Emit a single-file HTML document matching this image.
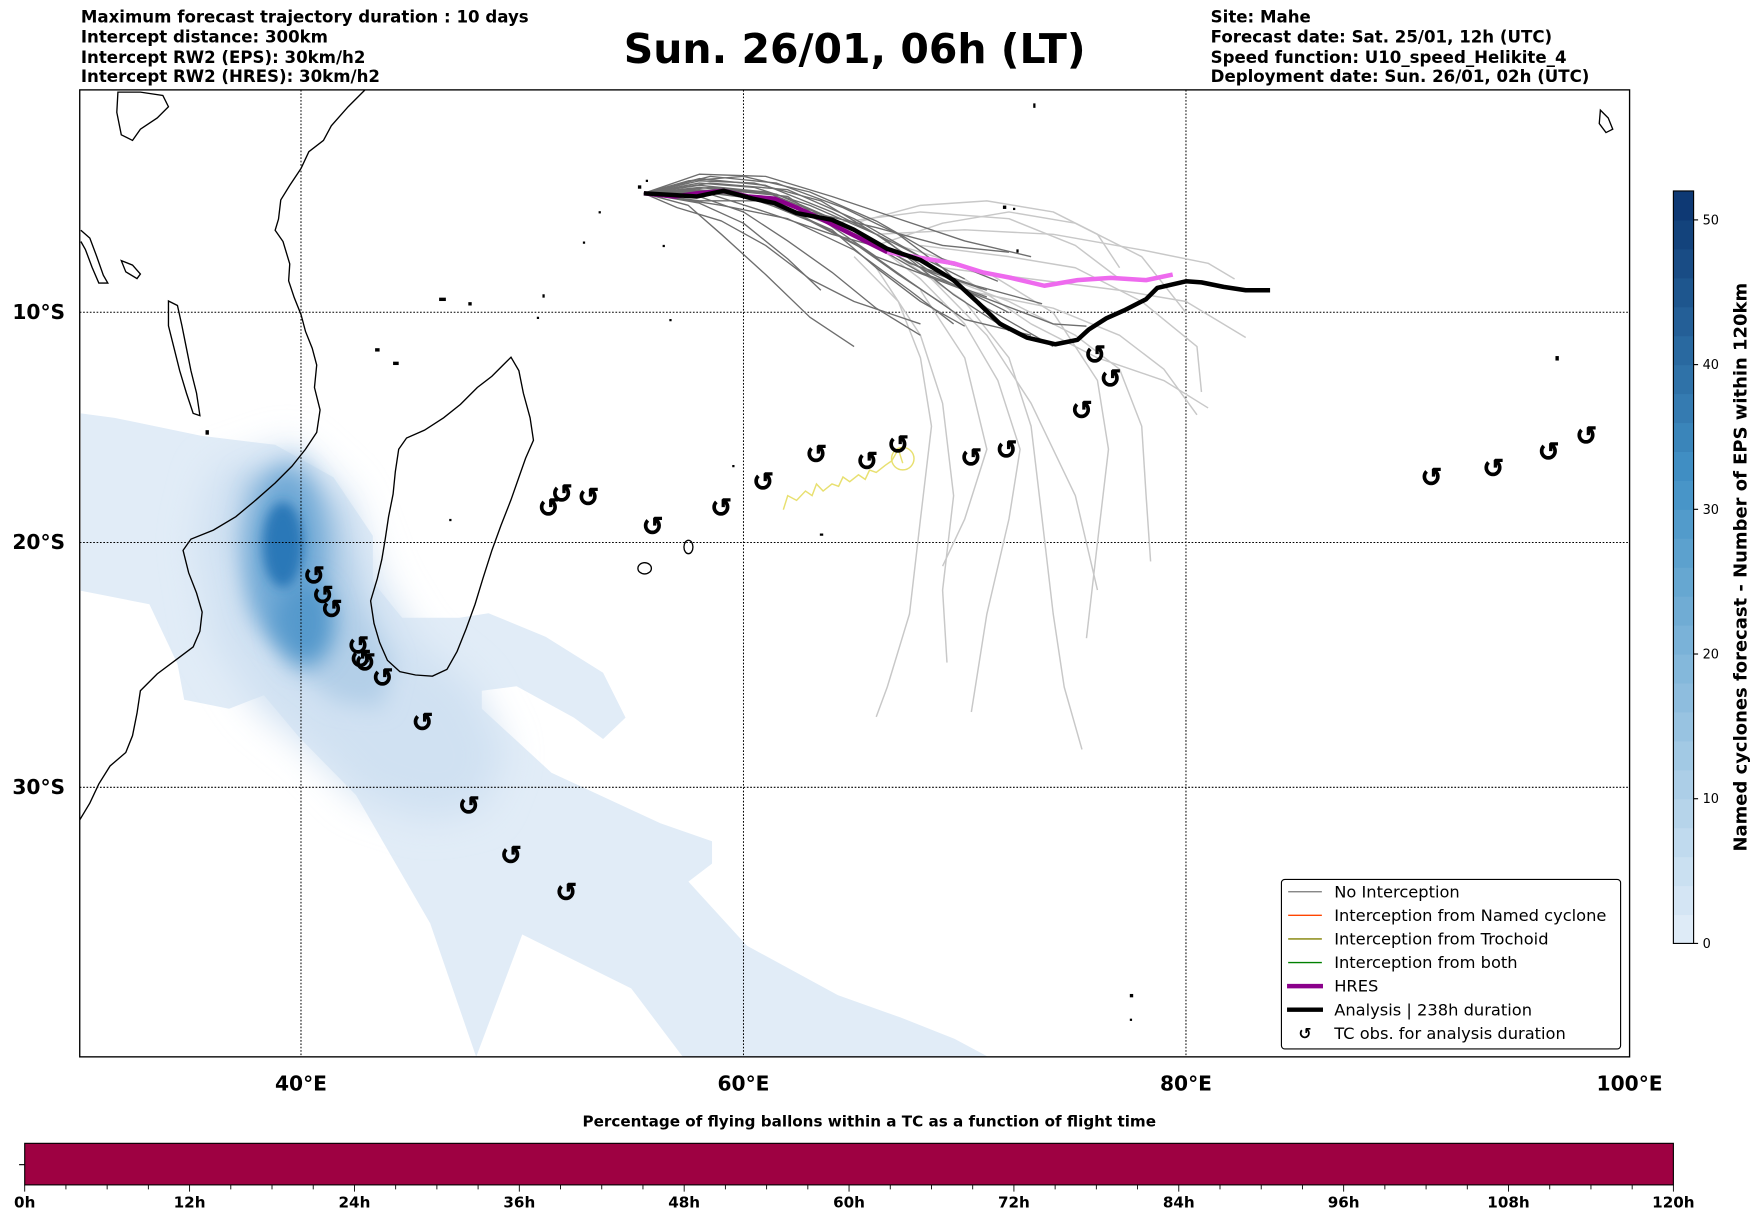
<!DOCTYPE html>
<html><head><meta charset="utf-8"><style>
html,body{margin:0;padding:0;background:#fff;}
svg{display:block;font-family:"DejaVu Sans","Liberation Sans",sans-serif;}
</style></head><body>
<svg id="fig" width="1752" height="1213" viewBox="0 0 1560 1080" xmlns="http://www.w3.org/2000/svg">
<defs>
<clipPath id="mapclip"><rect x="71" y="80" width="1380" height="861"/></clipPath>
<filter id="b4" x="-50%" y="-50%" width="200%" height="200%"><feGaussianBlur stdDeviation="5"/></filter>
<filter id="b10" x="-50%" y="-50%" width="200%" height="200%"><feGaussianBlur stdDeviation="10"/></filter>
<filter id="b16" x="-50%" y="-50%" width="200%" height="200%"><feGaussianBlur stdDeviation="16"/></filter>
</defs>
<g font-size="14.8" font-weight="bold">
<text x="72" y="20">Maximum forecast trajectory duration : 10 days</text>
<text x="72" y="38">Intercept distance: 300km</text>
<text x="72" y="56">Intercept RW2 (EPS):  30km/h2</text>
<text x="72" y="73">Intercept RW2 (HRES): 30km/h2</text>
</g>
<text x="761" y="56" font-size="36.5" font-weight="bold" text-anchor="middle">Sun. 26/01, 06h (LT)</text>
<g font-size="14.8" font-weight="bold">
<text x="1078" y="20">Site: Mahe</text>
<text x="1078" y="38">Forecast date: Sat. 25/01, 12h (UTC)</text>
<text x="1078" y="56">Speed function: U10_speed_Helikite_4</text>
<text x="1078" y="73">Deployment date: Sun. 26/01, 02h (UTC)</text>
</g>

<g id="map" clip-path="url(#mapclip)">
<g>
<polygon fill="#e1ecf7" points="72,368 102,372 179,388 245,396 297,425 332,477 332,518 358,550 409,550 435,546 486,567 537,599 557,639 537,658 511,639 460,611 429,615 429,631 491,688 588,733 634,749 634,769 613,785 665,842 746,886 802,906 850,925 880,941 608,941 562,880 465,832 424,941 383,822 317,708 266,656 235,619 204,631 164,623 158,591 133,538 72,526"/>
<polygon fill="#d0e1f2" filter="url(#b16)" points="190,420 260,395 310,440 340,520 370,570 420,610 450,670 430,720 380,730 320,710 280,670 230,630 190,570 175,480"/>
<polygon fill="#b3cfe8" filter="url(#b10)" points="215,425 265,405 305,455 320,530 350,590 340,630 300,625 260,595 222,545 208,480"/>
<ellipse cx="255" cy="495" rx="36" ry="78" fill="#6fa9d6" filter="url(#b10)"/>
<ellipse cx="272" cy="555" rx="26" ry="38" fill="#5599cc" filter="url(#b10)"/>
<ellipse cx="252" cy="485" rx="18" ry="38" fill="#2b78b8" filter="url(#b4)"/>
</g>
<g stroke="#000" stroke-width="0.9" stroke-dasharray="1.5,1.5" fill="none">
<line x1="268" y1="80" x2="268" y2="941"/><line x1="662" y1="80" x2="662" y2="941"/><line x1="1056" y1="80" x2="1056" y2="941"/>
<line x1="71" y1="278" x2="1451" y2="278"/><line x1="71" y1="483" x2="1451" y2="483"/><line x1="71" y1="701" x2="1451" y2="701"/>
</g>
<g fill="none" stroke="#000" stroke-width="1.2">
<path d="M325,80 L310,95 295,112 288,125 275,135 268,150 258,165 250,178 248,195 245,205 252,215 258,235 257,250 262,265 268,280 272,295 278,310 282,325 280,345 285,365 282,385 272,400 260,415 245,430 228,445 210,460 190,472 170,480 163,490 168,510 175,528 180,545 178,562 172,576 160,585 140,600 125,615 122,635 118,655 112,670 98,682 88,698 80,715 71,730"/>
<path d="M455,318 L462,330 466,350 472,372 475,392 468,408 462,425 455,445 446,468 438,490 430,515 423,538 415,560 407,580 398,596 385,602 370,601 356,598 345,588 338,572 333,555 330,535 336,515 340,498 343,480 346,460 350,440 352,420 355,400 362,390 378,383 395,372 410,360 425,345 438,335 448,325 Z"/>
<path d="M150,268 L158,272 162,290 166,310 170,330 175,350 178,370 172,368 166,350 160,330 155,310 150,290 Z"/>
<path d="M72,205 L80,212 86,228 92,245 96,252 88,252 82,238 76,222 72,215"/>
<path d="M105,82 L125,82 145,85 150,95 140,105 125,115 118,125 108,120 104,100 Z"/>
<path d="M108,232 L118,236 125,244 122,248 112,242 Z"/>
<ellipse cx="613" cy="487" rx="4" ry="6"/>
<ellipse cx="574" cy="506" rx="6" ry="5"/>
<path d="M1425,98 L1432,105 1436,115 1430,118 1424,110 Z"/>
</g>
<g fill="#000">
<rect x="568" y="165" width="3" height="3"/><rect x="575" y="160" width="2" height="2"/><rect x="533" y="188" width="2" height="2"/><rect x="519" y="215" width="2" height="2"/><rect x="590" y="218" width="2" height="2"/>
<rect x="391" y="265" width="6" height="3"/><rect x="417" y="269" width="3" height="3"/><rect x="483" y="262" width="2" height="3"/><rect x="478" y="282" width="2" height="2"/><rect x="596" y="284" width="2" height="2"/>
<rect x="893" y="183" width="3" height="3"/><rect x="902" y="185" width="2" height="2"/><rect x="905" y="222" width="2" height="3"/><rect x="920" y="92" width="2" height="4"/>
<rect x="1385" y="317" width="3" height="4"/><rect x="1006" y="885" width="3" height="3"/><rect x="1006" y="907" width="2" height="2"/><rect x="730" y="475" width="3" height="2"/><rect x="652" y="414" width="2" height="2"/>
<rect x="400" y="462" width="2" height="2"/><rect x="334" y="310" width="4" height="3"/><rect x="350" y="322" width="5" height="3"/><rect x="183" y="383" width="3" height="4"/>
</g>
<g id="eps-light"></g>
<g id="eps-dark"></g>
<g id="trochoid"></g>
<g id="hres"></g>
<g id="analysis"></g>
<g id="tcobs"></g>
</g>
<rect x="71" y="80" width="1380" height="861" fill="none" stroke="#000" stroke-width="1.2"/>
<g font-size="18" font-weight="bold" text-anchor="end">
<text x="58" y="284">10°S</text><text x="58" y="489">20°S</text><text x="58" y="707">30°S</text>
</g>
<g font-size="18" font-weight="bold" text-anchor="middle">
<text x="268" y="971">40°E</text><text x="662" y="971">60°E</text><text x="1056" y="971">80°E</text><text x="1451" y="971">100°E</text>
</g>

<g font-size="14.5">
<rect x="1141" y="783" width="302" height="151" rx="3" fill="#fff" stroke="#000" stroke-width="1"/>
<line x1="1147" y1="794" x2="1177" y2="794" stroke="#777" stroke-width="1.2"/><text x="1188" y="799">No Interception</text>
<line x1="1147" y1="815" x2="1177" y2="815" stroke="#ff4500" stroke-width="1.2"/><text x="1188" y="820">Interception from Named cyclone</text>
<line x1="1147" y1="836" x2="1177" y2="836" stroke="#808000" stroke-width="1.2"/><text x="1188" y="841">Interception from Trochoid</text>
<line x1="1147" y1="857" x2="1177" y2="857" stroke="#008000" stroke-width="1.2"/><text x="1188" y="862">Interception from both</text>
<line x1="1146" y1="878" x2="1178" y2="878" stroke="#8b008b" stroke-width="4"/><text x="1188" y="883">HRES</text>
<line x1="1146" y1="899" x2="1178" y2="899" stroke="#000" stroke-width="4"/><text x="1188" y="904">Analysis | 238h duration</text>
<text x="1162" y="925" font-weight="bold" text-anchor="middle" font-size="14">↺</text><text x="1188" y="925">TC obs. for analysis duration</text>
</g>

<g id="cbar-right"></g>
<text transform="translate(1555,505) rotate(-90)" font-size="16" font-weight="bold" text-anchor="middle">Named cyclones forecast - Number of EPS within 120km</text>

<text x="774" y="1003" font-size="13.5" font-weight="bold" text-anchor="middle">Percentage of flying ballons within a TC as a function of flight time</text>
<rect x="22" y="1018" width="1468" height="37" fill="#9e0142" stroke="#000" stroke-width="1"/>
<line x1="17" y1="1037" x2="22" y2="1037" stroke="#000"/>
<g id="cbar-bottom" font-size="13.5" font-weight="bold" text-anchor="middle"></g>
</svg>
<script>
// ---- data ----
const hresLon = [55.5,56.9,57.9,59.1,60.2,61.4,62.4,63.5,65.0,66.5,68.0,69.5,70.8,72.1,73.6,75.1,76.6,78.2,79.4];
const hresLat = [4.66,4.8,4.66,4.55,4.8,4.9,5.3,5.8,6.55,7.3,7.55,7.8,8.2,8.45,8.8,8.55,8.45,8.55,8.3];
const hresPurpleCount = 10;
const analysisLon = [55.5,56.9,57.9,59.1,60.4,61.4,62.4,64.0,65.0,66.5,68.0,69.5,70.6,71.6,72.8,74.1,75.1,75.6,76.4,77.2,78.2,78.7,80.0,80.7,81.7,82.7,83.8];
const analysisLat = [4.66,4.74,4.8,4.55,4.9,5.1,5.55,5.85,6.3,7.15,7.65,8.55,9.55,10.5,11.1,11.4,11.2,10.75,10.25,9.9,9.4,8.9,8.6,8.65,8.85,9.0,9.0];
const darkTracks = [
 [[55.5,4.66],[58,4.0],[61,4.3],[64,5.5],[67,7.0],[70,8.5]],
 [[55.5,4.66],[58,4.3],[61,4.6],[64,5.8],[67,7.5],[70,9.0],[72,10.0]],
 [[55.5,4.66],[58,4.8],[60,5.5],[62,6.8],[64,8.2],[66,9.8],[68,11.0]],
 [[55.5,4.66],[57.5,5.2],[59,6.5],[61,8.3],[63,10.2],[65,11.5]],
 [[55.5,4.66],[58,3.8],[61,3.9],[64,4.8],[67,5.8],[70,6.8],[73,7.5]],
 [[55.5,4.66],[58.5,4.2],[62,4.5],[65,5.8],[68,7.5],[71,9.8],[74,11.5]],
 [[55.5,4.66],[58,5.0],[61,5.0],[64,6.3],[66,8.0],[68,9.5],[70,10.6]],
 [[55.5,4.66],[59,4.5],[62,5.3],[65,6.5],[68,8.2],[71,9.3]],
 [[55.5,4.66],[58,4.5],[61,4.9],[63,5.5],[66,6.2],[69,7.0],[72,7.3]],
 [[55.5,4.66],[57,5.3],[59,5.9],[61,7.0],[63,8.5],[65,9.5],[68,10.5]],
 [[55.5,4.66],[58.5,3.9],[61.5,4.2],[64.5,5.3],[67,6.5],[69,8.0],[71,10.0],[72.5,11.0]],
 [[55.5,4.66],[58,4.6],[60.5,4.9],[63,5.9],[65.5,7.2],[67.5,8.6],[70,10.3],[73,11.0]],
 [[55.5,4.66],[58.5,4.7],[61,5.5],[64,6.5],[67,7.3],[70,8.0]],
 [[55.5,4.66],[58,4.2],[60.5,4.4],[63,5.2],[66,6.5],[68.5,8.2],[71,9.0]],
 [[55.5,4.66],[59,5.2],[62,5.8],[65,7.2],[67.5,9.0],[69.5,10.5]],
 [[55.5,4.66],[58,4.4],[62,4.8],[66,7.5],[70,9.0],[74,10.5],[75.5,10.6]],
 [[55.5,4.66],[57.5,4.1],[60,3.9],[63,4.6],[66,5.9],[69,7.6],[71.5,8.6]],
 [[55.5,4.66],[58,5.1],[60,6.0],[62,7.6],[63.5,9.0]],
 [[55.5,4.66],[58,4.1],[60.5,4.2],[63.5,5.0],[66.5,6.8],[69.5,9.2],[72,10.8]],
 [[55.5,4.66],[58.5,4.4],[61.5,4.7],[64.5,6.0],[67.5,7.8],[70.5,8.8],[73.5,9.6]],
 [[55.5,4.66],[57.5,4.5],[60,4.8],[62.5,5.6],[65,6.9],[67,8.3],[69,9.6]]
];
const lightTracks = [
 [[66,7.0],[68,8.5],[70,10.5],[71.5,13],[72.5,16],[72,19],[71,23],[70.3,27]],
 [[67,7.5],[70,9.5],[72,12],[73,15],[73.5,19],[74,23],[74.5,26],[75.3,28.5]],
 [[68,8.0],[72,9.5],[75,11],[77,12.5],[78,15],[78.2,18],[78.4,20.8]],
 [[68,7.0],[72,7.5],[75,8.0],[78,9.5],[80.5,11.5],[80.7,13.5]],
 [[69,8.0],[73,8.5],[77,9.0],[80,9.5],[82.7,11.1]],
 [[66,6.5],[70,6.3],[74,6.5],[78,7.2],[81,7.8],[82.2,8.5]],
 [[65,7.5],[67,9.5],[68,12],[68.5,15],[68,19],[67.5,23],[66.5,26],[66,27.2]],
 [[64,6.0],[68,5.5],[72,5.8],[75,7.0],[77,8.5]],
 [[67,7.0],[71,8.2],[74,10.0],[76,13],[76.5,16],[76,20],[75.5,24]],
 [[66,7],[69,6],[72,5.5],[75,6],[78,7.5],[80,10.0]],
 [[70,9],[74,9.8],[77,11],[79,12.5],[80.5,14.5]],
 [[65,6],[68,5.2],[71,5.0],[74,5.5],[76,6.5],[77,8]],
 [[68,8.0],[71,11],[73,14],[75,18],[76,22]],
 [[66,8],[68,11],[69,14],[69.5,18],[69,22],[69.2,25]],
 [[70,8.5],[73,10.5],[76,12],[79,13],[81,14.2]],
 [[68,9],[70,12],[71,16],[70,19],[69,21]]
];
const trochoidLon = [61.8,62.0,62.4,62.8,63.1,63.3,63.6,64.0,64.3,64.5,64.8,65.2,65.5,65.7,66.0,66.4,66.7,67.0,67.2];
const trochoidLat = [18.6,18.0,18.2,17.8,18.0,17.5,17.8,17.5,17.6,17.2,17.4,17.1,17.3,16.9,17.0,16.7,16.5,16.0,16.6];
const tcLon = [40.6,41.0,41.4,42.6,42.7,42.9,43.7,45.5,47.6,49.5,52.0,51.2,51.8,53.0,55.9,59.0,60.9,63.3,65.6,67.0,70.3,71.9,75.3,75.9,76.6,91.1,93.9,96.4,98.1];
const tcLat = [21.4,22.2,22.8,24.3,24.85,25.0,25.6,27.4,30.7,32.6,34.0,18.5,17.9,18.05,19.3,18.5,17.4,16.2,16.5,15.8,16.35,16.0,14.3,11.85,12.9,17.2,16.8,16.1,15.4];
const densityTicks = [0,10,20,30,40,50];
const densityMax = 52;
const timeTicks = [0,12,24,36,48,60,72,84,96,108,120];
const timeMax = 120;

// ---- axes ----
function xLon(lon){ return 71 + (lon-30)*19.7; }
function yLat(lat){ const r = lat*Math.PI/180; return 80 + 1131*Math.log(Math.tan(Math.PI/4 + r/2)); }
const NS = "http://www.w3.org/2000/svg";
function mk(tag, attrs, parent){ const e=document.createElementNS(NS,tag); for(const k in attrs) e.setAttribute(k,attrs[k]); parent.appendChild(e); return e; }
function pts(arr){ return arr.map(p=>xLon(p[0]).toFixed(1)+","+yLat(p[1]).toFixed(1)).join(" "); }
function zip(a,b){ return a.map((v,i)=>[v,b[i]]); }

const gLight=document.getElementById('eps-light');
lightTracks.forEach(t=>{ const e=mk('polyline',{points:pts(t),fill:'none',stroke:'#c8c8c8','stroke-width':1.3,'stroke-linejoin':'round'},gLight);
 
  });
const gDark=document.getElementById('eps-dark');
darkTracks.forEach(t=>{ const e=mk('polyline',{points:pts(t),fill:'none',stroke:'#6e6e6e','stroke-width':1.2,'stroke-linejoin':'round'},gDark);
 
  });

const gT=document.getElementById('trochoid');
const tr=mk('polyline',{points:pts(zip(trochoidLon,trochoidLat)),fill:'none',stroke:'#e8e070','stroke-width':1.3},gT);


const trc=mk('circle',{cx:xLon(trochoidLon[trochoidLon.length-1]),cy:yLat(trochoidLat[trochoidLat.length-1])-4,r:10,fill:'none',stroke:'#e8e070','stroke-width':1.3},gT);



const gH=document.getElementById('hres');
const hp=zip(hresLon,hresLat);
const h2=mk('polyline',{points:pts(hp.slice(hresPurpleCount-1)),fill:'none',stroke:'#ee6aee','stroke-width':4,'stroke-linejoin':'round'},gH);


const h1=mk('polyline',{points:pts(hp.slice(0,hresPurpleCount)),fill:'none',stroke:'#8b008b','stroke-width':4,'stroke-linejoin':'round'},gH);



const gA=document.getElementById('analysis');
const an=mk('polyline',{points:pts(zip(analysisLon,analysisLat)),fill:'none',stroke:'#000','stroke-width':4,'stroke-linejoin':'round'},gA);



const gTC=document.getElementById('tcobs');
tcLon.forEach((lon,i)=>{ const t=mk('text',{x:xLon(lon),y:yLat(tcLat[i])+8,'font-size':23,'font-weight':'bold','text-anchor':'middle',stroke:'#000','stroke-width':0.6},gTC);
 t.textContent='↺';
 
  });

// right colorbar
const cb=document.getElementById('cbar-right');
const cbTop=170, cbBot=840, cbX=1490, cbW=18;
function yDen(v){ return cbBot - (v/densityMax)*(cbBot-cbTop); }
function blues(t){ const c0=[222,235,247], c1=[8,48,107], cm=[66,146,198];
 let a,b,u; if(t<0.6){a=c0;b=cm;u=t/0.6;}else{a=cm;b=c1;u=(t-0.6)/0.4;}
 return 'rgb('+a.map((v,i)=>Math.round(v+(b[i]-v)*u)).join(',')+')'; }
for(let v=0; v<densityMax; v+=2){ const r=mk('rect',{x:cbX,y:yDen(v+2),width:cbW,height:yDen(v)-yDen(v+2)+0.5,fill:blues(v/densityMax)},cb);
 
  }
mk('rect',{x:cbX,y:cbTop,width:cbW,height:cbBot-cbTop,fill:'none',stroke:'#000','stroke-width':1},cb);
densityTicks.forEach(v=>{ mk('line',{x1:cbX+cbW,y1:yDen(v),x2:cbX+cbW+4,y2:yDen(v),stroke:'#000'},cb);
 const t=mk('text',{x:cbX+cbW+8,y:yDen(v)+4,'font-size':11.5},cb); t.textContent=v;
 
  });

// bottom colorbar ticks
const cbb=document.getElementById('cbar-bottom');
function xTime(h){ return 22 + (h/timeMax)*1468; }
for(let h=0; h<=timeMax; h+=3){ mk('line',{x1:xTime(h),y1:1055,x2:xTime(h),y2:h%12===0?1061:1059,stroke:'#000','stroke-width':0.8},cbb); }
timeTicks.forEach(h=>{ const t=mk('text',{x:xTime(h),y:1075},cbb); t.textContent=h+'h';
 
  });
</script>
</body></html>
